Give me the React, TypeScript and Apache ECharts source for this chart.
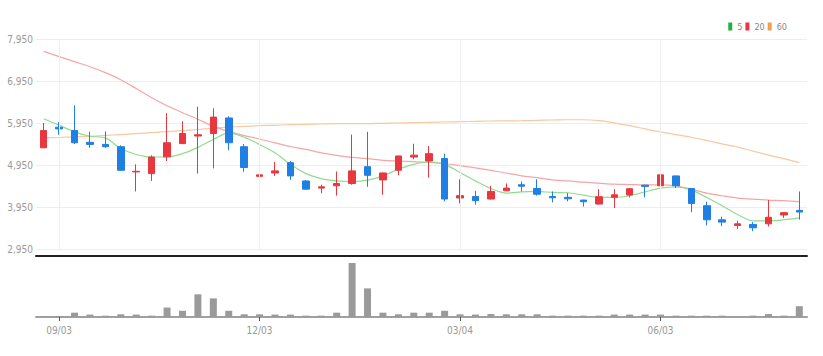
import React, { useEffect, useRef } from 'react';
import * as echarts from 'echarts';

const dates = [
  '08/27', '09/03', '09/10', '09/17', '09/24', '10/01', '10/08', '10/15', '10/22', '10/29',
  '11/05', '11/12', '11/19', '11/26', '12/03', '12/10', '12/17', '12/24', '12/31', '01/07',
  '01/14', '01/21', '01/28', '02/04', '02/11', '02/18', '02/25', '03/04', '03/11', '03/18',
  '03/25', '04/01', '04/08', '04/15', '04/22', '04/29', '05/06', '05/13', '05/20', '05/27',
  '06/03', '06/10', '06/17', '06/24', '07/01', '07/08', '07/15', '07/22', '07/29', '08/05',
];
const labeledDates = ['09/03', '12/03', '03/04', '06/03'];

const opens = [
  5360, 5850, 5770, 5490, 5440, 5385, 4785, 4745, 5145, 5460,
  5640, 5700, 6070, 5385, 4680, 4760, 5005, 4570, 4400, 4455,
  4510, 4910, 4595, 4825, 5140, 5045, 5105, 4165, 4200, 4140,
  4335, 4480, 4390, 4200, 4180, 4115, 4020, 4180, 4235, 4470,
  4455, 4690, 4390, 3980, 3645, 3510, 3535, 3550, 3760, 3870,
];
const closes = [
  5770, 5810, 5480, 5440, 5385, 4825, 4800, 5140, 5480, 5700,
  5670, 6090, 5480, 4890, 4715, 4810, 4690, 4375, 4430, 4510,
  4810, 4705, 4760, 5165, 5185, 5220, 4140, 4220, 4100, 4320,
  4400, 4445, 4255, 4170, 4145, 4075, 4195, 4240, 4385, 4440,
  4715, 4455, 4035, 3645, 3590, 3550, 3455, 3705, 3815, 3830,
];
const lows = [
  5350, 5670, 5450, 5360, 5360, 4810, 4320, 4570, 5045, 5450,
  4745, 4870, 5300, 4790, 4195, 4690, 4595, 4360, 4275, 4220,
  4480, 4430, 4240, 4705, 5085, 4650, 4085, 4035, 4005, 4130,
  4330, 4320, 4220, 4060, 4085, 3960, 4010, 3925, 4180, 4180,
  4375, 4400, 3825, 3510, 3495, 3430, 3375, 3485, 3690, 3650,
];
const highs = [
  5950, 5970, 6370, 5740, 5750, 5420, 4965, 5180, 6185, 5990,
  6340, 6300, 6110, 5450, 4925, 5020, 5045, 4595, 4480, 4795,
  5675, 5740, 4770, 5170, 5455, 5400, 5220, 4610, 4335, 4455,
  4510, 4555, 4610, 4320, 4280, 4120, 4375, 4375, 4400, 4480,
  4745, 4700, 4395, 4075, 3720, 3625, 3590, 4115, 3825, 4320,
];
const volumes = [
  15, 20, 80, 45, 25, 50, 45, 25, 175, 115,
  420, 345, 115, 50, 50, 45, 45, 25, 25, 80,
  1000, 530, 80, 50, 80, 80, 115, 50, 45, 55,
  50, 50, 50, 25, 25, 25, 25, 45, 45, 45,
  45, 25, 25, 25, 25, 5, 25, 55, 25, 200,
];
const ma5 = [
  6050, 5895, 5740, 5635, 5595, 5345, 5200, 5140, 5140, 5220,
  5370, 5556, 5714, 5611, 5438, 5241, 4966, 4745, 4627, 4572,
  4556, 4588, 4690, 4848, 4966, 5021, 4966, 4770, 4572, 4391,
  4280, 4312, 4320, 4296, 4289, 4233, 4178, 4178, 4218, 4312,
  4399, 4426, 4351, 4178, 3982, 3770, 3620, 3620, 3645, 3690,
];
const ma20 = [
  7655, 7530, 7410, 7290, 7150, 6980, 6770, 6550, 6360, 6195,
  6040, 5870, 5750, 5650, 5570, 5478, 5390, 5320, 5240, 5180,
  5130, 5100, 5060, 5045, 5030, 5013, 4980, 4935, 4880, 4820,
  4760, 4690, 4650, 4595, 4572, 4540, 4517, 4493, 4485, 4478,
  4478, 4455, 4375, 4281, 4218, 4163, 4139, 4115, 4100, 4076,
];
const ma60 = [
  5596, 5605, 5620, 5635, 5655, 5675, 5697, 5720, 5745, 5770,
  5795, 5825, 5850, 5871, 5887, 5895, 5910, 5918, 5926, 5934,
  5934, 5934, 5942, 5950, 5958, 5966, 5974, 5982, 5990, 5998,
  6000, 6005, 6013, 6021, 6027, 6027, 6005, 5955, 5887, 5810,
  5737, 5675, 5611, 5533, 5454, 5375, 5280, 5186, 5100, 5005,
];
const priceTicks = [2950, 3950, 4950, 5950, 6950, 7950];
const legendNames = ['5', '20', '60'];

const FONT = "'DejaVu Sans Condensed', 'DejaVu Sans', sans-serif";
const UP = '#e8373e';
const DOWN = '#1f7fe4';

export default function App() {
  const ref = useRef<HTMLDivElement>(null);
  useEffect(() => {
    document.body.style.margin = '0';
    const chart = echarts.init(ref.current as HTMLDivElement, null, { renderer: 'svg' });
    const isLabeled = (i: number) => labeledDates.indexOf(dates[i]) >= 0;
    const candles = dates.map((_, i) => [opens[i], closes[i], lows[i], highs[i]]);
    const maLine = (name: string, data: number[], color: string, lineColor: string) => ({
      name,
      type: 'line',
      xAxisIndex: 0,
      yAxisIndex: 0,
      data,
      showSymbol: false,
      smooth: 0.3,
      itemStyle: { color },
      lineStyle: { color: lineColor, width: 1.2 },
      z: 3,
    });
    chart.setOption({
      animation: false,
      legend: {
        data: legendNames,
        right: 31,
        top: 17,
        icon: 'rect',
        itemWidth: 4,
        itemHeight: 8,
        itemGap: 3,
        textStyle: { fontSize: 9, color: '#888', fontFamily: FONT },
      },
      grid: [
        { left: 36, right: 16, top: 39, height: 210 },
        { left: 36, right: 16, top: 263, height: 54 },
      ],
      xAxis: [
        {
          type: 'category',
          gridIndex: 0,
          data: dates,
          boundaryGap: true,
          offset: 7,
          axisLine: { show: true, lineStyle: { color: '#222', width: 2 } },
          axisTick: { show: false },
          axisLabel: { show: false },
          splitLine: { show: false },
        },
        {
          type: 'category',
          gridIndex: 1,
          data: dates,
          boundaryGap: true,
          axisLine: { show: true, lineStyle: { color: '#a0a0a0', width: 2 } },
          axisTick: {
            show: true,
            alignWithLabel: true,
            interval: (i: number) => isLabeled(i),
            length: 4,
            lineStyle: { color: '#555' },
          },
          axisLabel: {
            interval: (i: number) => isLabeled(i),
            color: '#999',
            fontSize: 10,
            fontFamily: FONT,
            margin: 8,
          },
          splitLine: { show: false },
        },
      ],
      yAxis: [
        {
          type: 'value',
          gridIndex: 0,
          min: priceTicks[0],
          max: priceTicks[priceTicks.length - 1],
          interval: priceTicks[1] - priceTicks[0],
          axisLine: { show: false },
          axisTick: { show: false },
          axisLabel: {
            color: '#999',
            fontSize: 10,
            fontFamily: FONT,
            margin: 3,
            formatter: (v: number) => v.toLocaleString('en-US'),
          },
          splitLine: { show: true, lineStyle: { color: '#eeeeee', width: 1 } },
        },
        {
          type: 'value',
          gridIndex: 1,
          min: 0,
          max: 1000,
          show: false,
          splitLine: { show: false },
        },
      ],
      series: [
        {
          name: 'vgrid',
          type: 'line',
          xAxisIndex: 0,
          yAxisIndex: 0,
          data: [],
          z: 1,
          markLine: {
            silent: true,
            symbol: ['none', 'none'],
            label: { show: false },
            lineStyle: { color: '#eeeeee', type: 'solid', width: 1 },
            data: labeledDates.map((d) => ({ xAxis: d })),
          },
        },
        maLine('60', ma60, '#f0a050', '#f7c9a0'),
        maLine('20', ma20, '#ee3344', '#f5a5a8'),
        maLine('5', ma5, '#22b33a', '#8fdc8f'),
        {
          name: 'price',
          type: 'candlestick',
          xAxisIndex: 0,
          yAxisIndex: 0,
          data: candles,
          barWidth: 7,
          z: 4,
          itemStyle: {
            color: UP,
            color0: DOWN,
            borderColor: UP,
            borderColor0: DOWN,
            borderWidth: 1,
          },
        },
        {
          name: 'volume',
          type: 'bar',
          xAxisIndex: 1,
          yAxisIndex: 1,
          data: volumes,
          barWidth: 7,
          itemStyle: { color: '#9a9a9a' },
        },
      ],
    });
    return () => chart.dispose();
  }, []);
  return <div ref={ref} style={{ width: 823, height: 356 }} />;
}
